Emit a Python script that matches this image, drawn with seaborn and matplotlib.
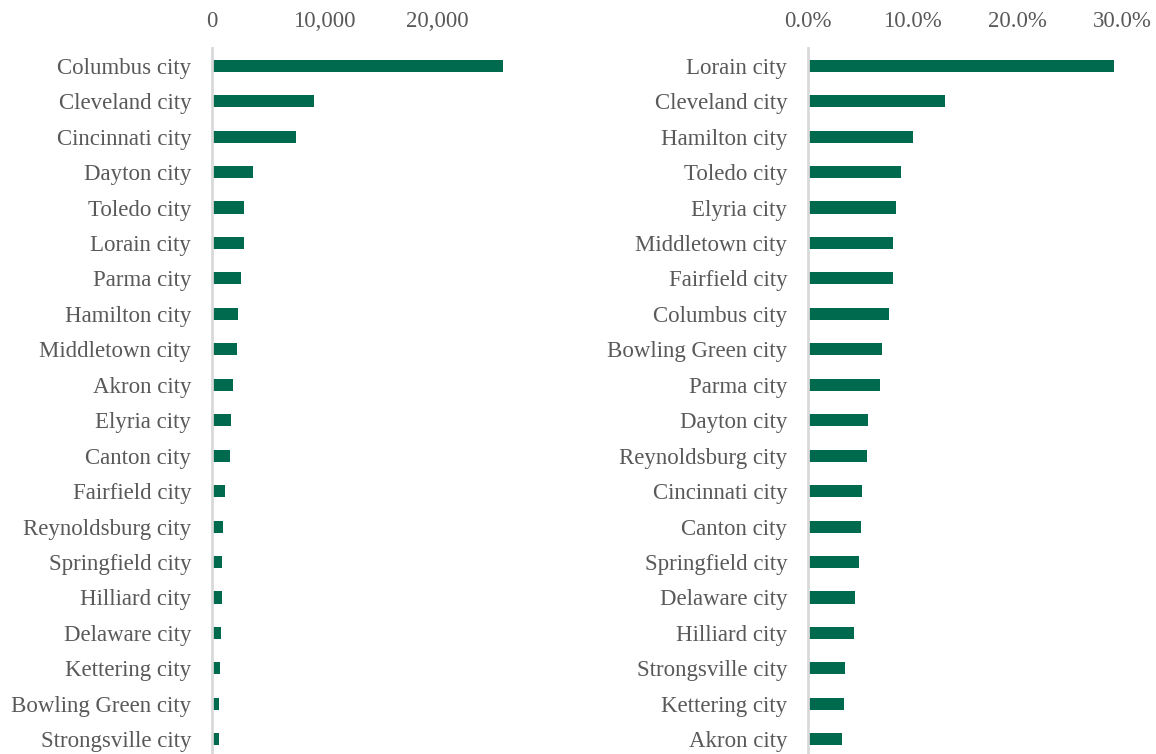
import matplotlib
matplotlib.use("Agg")
import matplotlib.pyplot as plt
import matplotlib.ticker as mticker
import seaborn as sns
import pandas as pd

left_cities = ["Columbus city", "Cleveland city", "Cincinnati city", "Dayton city", "Toledo city",
               "Lorain city", "Parma city", "Hamilton city", "Middletown city", "Akron city",
               "Elyria city", "Canton city", "Fairfield city", "Reynoldsburg city", "Springfield city",
               "Hilliard city", "Delaware city", "Kettering city", "Bowling Green city", "Strongsville city"]
left_values = [25870, 9120, 7500, 3650, 2920, 2860, 2590, 2320, 2260, 1880,
               1700, 1610, 1200, 990, 960, 900, 870, 730, 690, 640]

right_cities = ["Lorain city", "Cleveland city", "Hamilton city", "Toledo city", "Elyria city",
                "Middletown city", "Fairfield city", "Columbus city", "Bowling Green city", "Parma city",
                "Dayton city", "Reynoldsburg city", "Cincinnati city", "Canton city", "Springfield city",
                "Delaware city", "Hilliard city", "Strongsville city", "Kettering city", "Akron city"]
right_values = [0.292, 0.131, 0.100, 0.089, 0.084, 0.081, 0.081, 0.078, 0.071, 0.069,
                0.058, 0.057, 0.052, 0.051, 0.0495, 0.045, 0.0445, 0.036, 0.0345, 0.033]

left_ticks = [0, 10000, 20000]
right_ticks = [0.0, 0.1, 0.2, 0.3]

sns.set_style("white")
plt.rcParams['font.family'] = ['Liberation Serif', 'DejaVu Serif']

BAR = "#006a4e"
TXT = "#595959"
AX = "#d9d9d9"

fig = plt.figure(figsize=(11.56, 7.54), dpi=100)
W, H = 1156, 754
top_px, bot_px = 48, 757

def make_ax(x0, x1):
    return fig.add_axes([x0 / W, 1 - bot_px / H, (x1 - x0) / W, (bot_px - top_px) / H])

ax1 = make_ax(211.5, 211.5 + 28 * 11.27)
ax2 = make_ax(807.5, 807.5 + 32 * 10.5)

df1 = pd.DataFrame({"city": left_cities, "value": left_values})
df2 = pd.DataFrame({"city": right_cities, "value": right_values})

for ax, df, ticks, xmax, fmt in [
    (ax1, df1, left_ticks, 28000, mticker.FuncFormatter(lambda v, p: f"{v:,.0f}")),
    (ax2, df2, right_ticks, 0.32, mticker.FuncFormatter(lambda v, p: f"{v*100:.1f}%")),
]:
    sns.barplot(data=df, x="value", y="city", orient="h", color=BAR, width=0.34,
                saturation=1, ax=ax, linewidth=0)
    ax.set_xlim(0, xmax)
    ax.set_ylim(len(df) - 0.5, -0.5)
    ax.xaxis.tick_top()
    ax.set_xticks(ticks)
    ax.xaxis.set_major_formatter(fmt)
    ax.set_xlabel("")
    ax.set_ylabel("")
    for s in ["top", "right", "bottom"]:
        ax.spines[s].set_visible(False)
    ax.spines["left"].set_color(AX)
    ax.spines["left"].set_linewidth(2)
    ax.tick_params(axis="x", length=0, pad=11.5, labelsize=16.5, labelcolor=TXT)
    ax.tick_params(axis="y", length=0, pad=14.5, labelsize=16.5, labelcolor=TXT)
    ax.set_facecolor("none")

fig.savefig("out.png", dpi=100)
